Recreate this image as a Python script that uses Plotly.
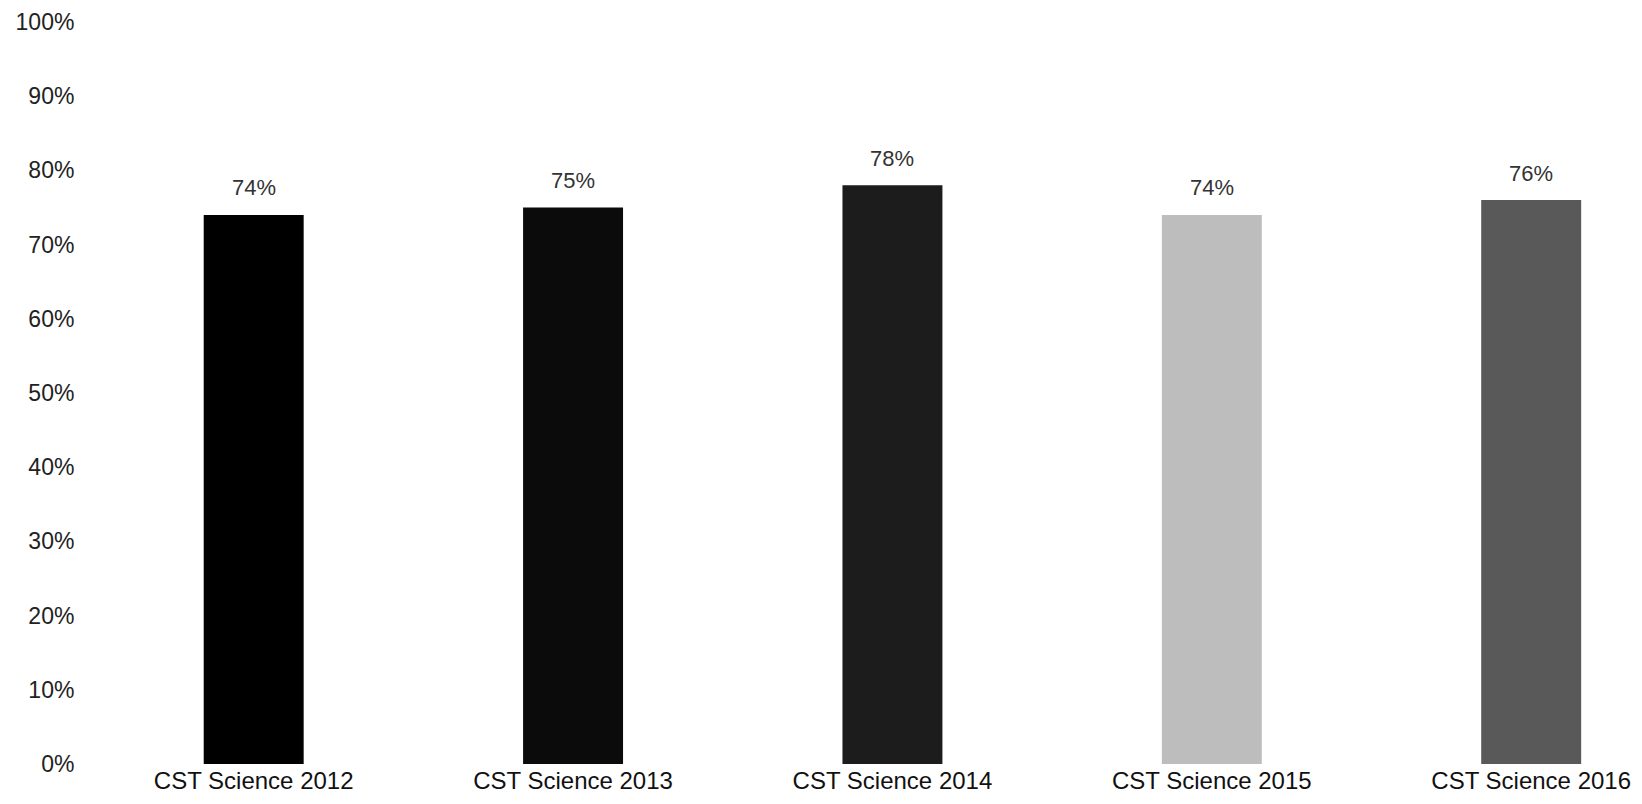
import plotly.graph_objects as go

categories = ["CST Science 2012", "CST Science 2013", "CST Science 2014", "CST Science 2015", "CST Science 2016"]
values = [74, 75, 78, 74, 76]
labels = ["74%", "75%", "78%", "74%", "76%"]
colors = ["#000000", "#0b0b0b", "#1c1c1c", "#bdbdbd", "#595959"]

FONT = "Liberation Sans, Arial, sans-serif"

fig = go.Figure(go.Bar(
    x=categories, y=values,
    marker=dict(color=colors, line=dict(width=0)),
))

for c, v, t in zip(categories, values, labels):
    fig.add_annotation(x=c, y=v, text=t, showarrow=False, yshift=27,
                       font=dict(family=FONT, size=22, color="#333333"))

fig.update_layout(
    width=1634, height=796,
    margin=dict(l=86, r=15, t=14, b=40, autoexpand=False),
    paper_bgcolor="white", plot_bgcolor="white",
    bargap=0.687,
    showlegend=False,
    font=dict(family=FONT, size=22, color="#222222"),
)
fig.update_yaxes(range=[0, 100], dtick=10, ticksuffix="%", showgrid=False, zeroline=False,
                 showline=False, ticks="outside", ticklen=14, tickcolor="rgba(0,0,0,0)",
                 automargin=False,
                 tickfont=dict(family=FONT, size=23, color="#222222"))
fig.update_xaxes(range=[-0.5, 4.3], showgrid=False, showline=False, ticks="",
                 automargin=False,
                 tickfont=dict(family=FONT, size=24, color="#111111"))

fig.write_html("out.html")
